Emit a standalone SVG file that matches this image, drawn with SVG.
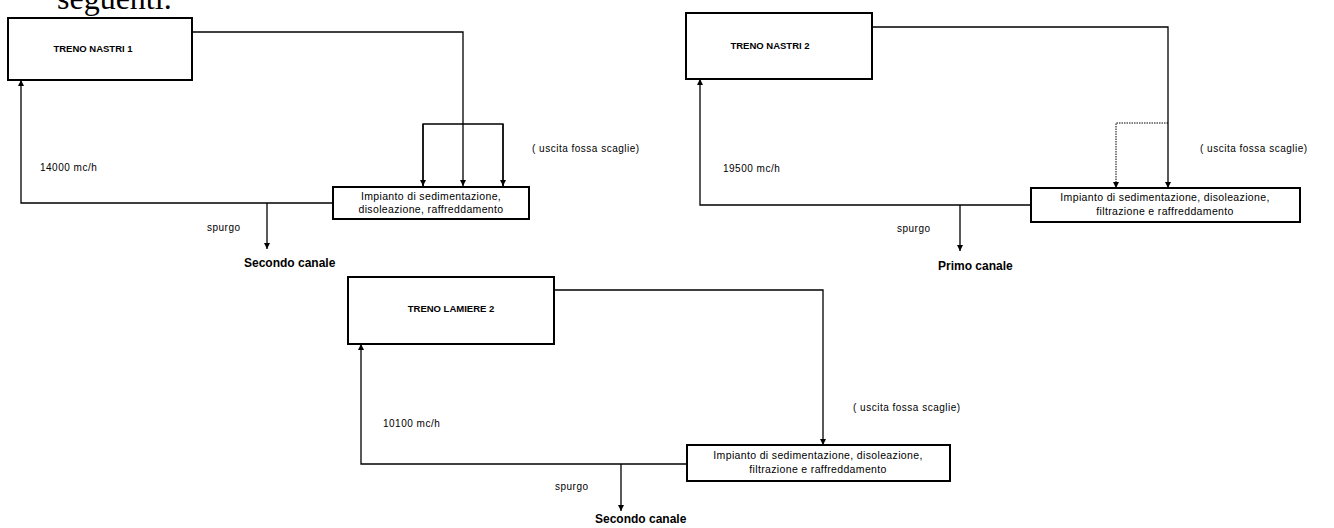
<svg xmlns="http://www.w3.org/2000/svg" width="1334" height="528" viewBox="0 0 1334 528">
<defs>
<marker id="ah" viewBox="0 0 10 10" refX="10" refY="5" markerWidth="6" markerHeight="6" orient="auto" markerUnits="userSpaceOnUse">
<path d="M0,0 L10,5 L0,10 z" fill="#000"/>
</marker>
</defs>
<style>
.box{fill:#fff;stroke:#000;stroke-width:2}
.ln{fill:none;stroke:#000;stroke-width:1.3}
.dash{fill:none;stroke:#000;stroke-width:1;stroke-dasharray:1.5 1}
.t{font-family:"Liberation Sans",Arial,sans-serif;fill:#000}
.title{font-size:9.5px;font-weight:bold}
.small{font-size:10.5px;letter-spacing:0.35px}
.lbl{font-size:10px;letter-spacing:0.5px}
.dest{font-size:12px;font-weight:bold}
.serif{font-family:"Liberation Serif","Times New Roman",serif;font-size:32px;fill:#000}
</style>
<rect width="1334" height="528" fill="#fff"/>
<text class="serif" x="57" y="9">seguenti.</text>

<g id="connectors">
<!-- Section 1 -->
<polyline class="ln" points="192,32 463,32 463,186" marker-end="url(#ah)"/>
<polyline class="ln" points="423,186 423,124 503,124 503,186" />
<line class="ln" x1="423" y1="124" x2="423" y2="186" marker-end="url(#ah)"/>
<line class="ln" x1="503" y1="124" x2="503" y2="186" marker-end="url(#ah)"/>
<polyline class="ln" points="333,203 21,203 21,80" marker-end="url(#ah)"/>
<line class="ln" x1="267" y1="203" x2="267" y2="249" marker-end="url(#ah)"/>
<!-- Section 2 -->
<polyline class="ln" points="872,27 1168,27 1168,188" marker-end="url(#ah)"/>
<polyline class="dash" points="1168,123 1116,123 1116,188" marker-end="url(#ah)"/>
<polyline class="ln" points="1031,205 700,205 700,79" marker-end="url(#ah)"/>
<line class="ln" x1="960" y1="205" x2="960" y2="251" marker-end="url(#ah)"/>
<!-- Section 3 -->
<polyline class="ln" points="554,290 823,290 823,445" marker-end="url(#ah)"/>
<polyline class="ln" points="687,464 361,464 361,344" marker-end="url(#ah)"/>
<line class="ln" x1="621" y1="464" x2="621" y2="511" marker-end="url(#ah)"/>
</g>

<g id="treno-nastri-1">
<rect class="box" x="8" y="18" width="184" height="62"/>
<text class="t title" x="93" y="52" text-anchor="middle">TRENO NASTRI 1</text>
</g>
<g id="impianto-1">
<rect class="box" x="333" y="187" width="196" height="32"/>
<text class="t small" x="431" y="200" text-anchor="middle">Impianto di sedimentazione,</text>
<text class="t small" x="431" y="213" text-anchor="middle">disoleazione, raffreddamento</text>
</g>
<g id="labels-1">
<text class="t lbl" x="532" y="152">( uscita fossa scaglie)</text>
<text class="t lbl" x="40" y="171">14000 mc/h</text>
<text class="t lbl" x="207" y="231">spurgo</text>
<text class="t dest" x="244" y="267">Secondo canale</text>
</g>

<g id="treno-nastri-2">
<rect class="box" x="686" y="13" width="186" height="66"/>
<text class="t title" x="770" y="49" text-anchor="middle">TRENO NASTRI 2</text>
</g>
<g id="impianto-2">
<rect class="box" x="1031" y="188" width="269" height="34"/>
<text class="t small" x="1165" y="201" text-anchor="middle">Impianto di sedimentazione, disoleazione,</text>
<text class="t small" x="1165" y="215" text-anchor="middle">filtrazione e raffreddamento</text>
</g>
<g id="labels-2">
<text class="t lbl" x="1200" y="152">( uscita fossa scaglie)</text>
<text class="t lbl" x="723" y="172">19500 mc/h</text>
<text class="t lbl" x="897" y="232">spurgo</text>
<text class="t dest" x="938" y="270">Primo canale</text>
</g>

<g id="treno-lamiere-2">
<rect class="box" x="348" y="277" width="206" height="67"/>
<text class="t title" x="451" y="312" text-anchor="middle">TRENO LAMIERE 2</text>
</g>
<g id="impianto-3">
<rect class="box" x="687" y="445" width="263" height="36"/>
<text class="t small" x="818" y="459" text-anchor="middle">Impianto di sedimentazione, disoleazione,</text>
<text class="t small" x="818" y="473" text-anchor="middle">filtrazione e raffreddamento</text>
</g>
<g id="labels-3">
<text class="t lbl" x="853" y="411">( uscita fossa scaglie)</text>
<text class="t lbl" x="383" y="427">10100 mc/h</text>
<text class="t lbl" x="555" y="490">spurgo</text>
<text class="t dest" x="595" y="523">Secondo canale</text>
</g>
</svg>
